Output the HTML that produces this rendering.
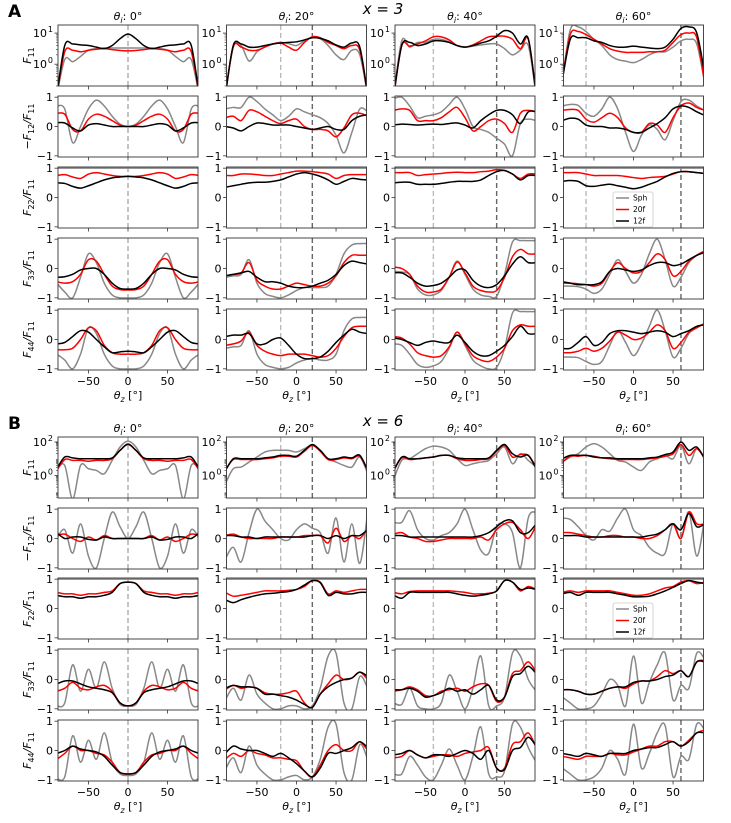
<!DOCTYPE html>
<html><head><meta charset="utf-8"><style>
html,body{margin:0;padding:0;background:#fff;}
svg{display:block;font-family:"DejaVu Sans","Liberation Sans",sans-serif;}
</style></head><body>
<svg id="fig" width="731" height="823" viewBox="0 0 731 823" xmlns="http://www.w3.org/2000/svg"></svg>
<script>
const thetaZ = [-90,-80,-70,-60,-50,-40,-30,-20,-10,0,10,20,30,40,50,60,70,80,90];
const thetaI = [0,20,40,60];
const blockNames = ['A','B'];
const blockX = ['3','6'];
const xTicks = [-50,0,50];
const ratioTicks = [1,0,-1];
const logTicksA = [0,1];
const logTicksB = [0,2];
const seriesNames = ['Sph','20f','12f'];

// ---- Block A (x = 3); F11 stored as log10(F11) ----
const A_F11_sph = [
[-1,.15,.08,.25,.45,.5,.52,.52,.52,.52,.52,.52,.52,.5,.45,.25,.08,.15,-1],
[-1,.55,.6,.1,.4,.55,.65,.7,.66,.6,.75,.85,.82,.6,.3,.15,.45,.3,-1],
[-1,.75,.55,.7,.7,.8,.8,.72,.6,.55,.58,.62,.65,.65,.5,.3,.45,.6,-1],
[-.5,1.1,1.2,1.05,.8,.6,.3,.15,.1,.05,.15,.3,.4,.4,.55,.75,.8,.65,-.6]];
const A_F11_20f = [
[-1,.4,.45,.4,.45,.48,.5,.47,.44,.43,.44,.47,.5,.48,.45,.4,.45,.4,-1],
[-1,.55,.55,.45,.45,.55,.65,.68,.55,.45,.7,.88,.85,.7,.6,.5,.6,.45,-1],
[-1,.6,.58,.65,.75,.88,.88,.78,.6,.55,.62,.75,.88,.9,.9,.8,.5,.8,-1],
[-.5,.95,1.05,.95,.8,.65,.5,.42,.38,.38,.38,.4,.4,.45,.7,.95,1.0,.85,-.6]];
const A_F11_12f = [
[-1,.6,.65,.62,.6,.55,.5,.6,.82,.97,.82,.6,.5,.55,.6,.62,.65,.6,-1],
[-1,.6,.65,.55,.55,.6,.65,.68,.7,.72,.78,.85,.83,.75,.62,.55,.68,.55,-1],
[-1,.6,.7,.6,.65,.75,.75,.7,.6,.55,.6,.68,.75,.9,1.08,1.0,.65,.82,-1],
[-.5,.8,.85,.85,.75,.7,.6,.55,.55,.58,.55,.52,.5,.55,.8,1.15,1.2,1.0,-.3]];
const A_F12_sph = [
[.7,.6,-.55,0,.6,.9,.7,.35,.08,0,.08,.35,.7,.9,.6,0,-.55,.6,.7],
[.6,.65,.65,1,.85,.6,.4,.2,.35,.6,.5,.4,.3,.1,-.3,-.9,-.2,.6,.5],
[.95,1,.7,.3,.35,.4,.5,.75,1,.6,0,-.1,-.2,-.4,-.6,-1,.1,.25,.2],
[.7,.75,.72,.45,.35,.6,1,.6,-.2,-.85,-.3,.05,-.1,-.45,.2,.85,.9,.7,.55]];
const A_F12_20f = [
[.45,.42,-.1,-.15,.25,.42,.35,.2,.05,0,.05,.2,.35,.42,.25,-.15,-.1,.42,.45],
[.3,.35,.2,.55,.5,.35,.2,.1,.2,.25,0,-.1,-.1,-.15,-.35,-.05,.4,.45,.35],
[.55,.6,.55,.2,.2,.2,.3,.5,.65,.3,-.15,0,.2,.25,.1,-.2,.45,.55,.5],
[.55,.58,.55,.25,.15,.3,.45,.3,-.05,-.2,-.2,.1,.05,-.2,.3,.7,.8,.65,.55]];
const A_F12_12f = [
[.13,.12,-.05,-.15,.05,.1,.05,0,0,0,0,0,.05,.1,.05,-.15,-.05,.12,.13],
[0,-.05,-.15,0,.12,.1,.05,.05,.05,0,-.05,-.1,-.05,0,-.1,-.1,.2,.35,.4],
[.05,.08,.07,.05,.07,.08,.07,.1,.12,.05,-.05,.2,.4,.55,.55,.4,.1,.5,.5],
[.2,.28,.25,.05,0,0,-.05,-.05,-.1,-.2,-.2,-.05,.1,.3,.6,.7,.65,.5,.38]];
const A_F22_sph = [
[1,1,1,1,1,1,1,1,1,1,1,1,1,1,1,1,1,1,1],
[1,1,1,1,1,1,1,1,1,1,1,1,1,1,1,1,1,1,1],
[1,1,1,1,1,1,1,1,1,1,1,1,1,1,1,1,1,1,1],
[1,1,1,1,1,1,1,1,1,1,1,1,1,1,1,1,1,1,1]];
const A_F22_20f = [
[.75,.78,.7,.65,.8,.85,.8,.75,.72,.72,.72,.75,.8,.85,.8,.65,.7,.78,.75],
[.75,.75,.8,.8,.78,.75,.75,.8,.85,.9,.9,.88,.85,.8,.65,.75,.78,.78,.78],
[.85,.85,.85,.75,.78,.8,.82,.85,.86,.85,.85,.88,.9,.95,.92,.8,.65,.8,.8],
[.85,.85,.85,.8,.75,.75,.75,.75,.72,.68,.65,.68,.7,.72,.8,.88,.88,.85,.82]];
const A_F22_12f = [
[.5,.48,.38,.32,.4,.5,.6,.67,.7,.72,.7,.67,.6,.5,.4,.32,.38,.48,.5],
[.35,.4,.45,.5,.52,.52,.55,.6,.7,.8,.85,.8,.72,.6,.45,.55,.65,.62,.6],
[.5,.52,.52,.45,.45,.45,.48,.52,.55,.55,.55,.6,.75,.88,.92,.8,.6,.75,.75],
[.55,.58,.55,.4,.38,.42,.45,.4,.35,.3,.35,.45,.55,.7,.82,.88,.88,.85,.82]];
const A_F33_sph = [
[-.5,-.8,-1,-.3,.5,.2,-.5,-.9,-1,-1,-1,-.9,-.5,.2,.5,-.3,-1,-.8,-.5],
[-.3,-.25,-.2,.3,-.5,-.85,-.95,-1,-.9,-.75,-.65,-.65,-.65,-.6,-.2,.5,.8,.85,.85],
[-.1,-.12,-.2,-.7,-.9,-.9,-.75,-.3,.25,-.2,-.7,-.9,-.95,-.95,-.2,.9,.95,.95,.95],
[-.6,-.6,-.62,-.7,-.85,-.7,-.2,.3,-.1,-.5,-.2,.5,1,.3,-.6,-.3,.2,.45,.6]];
const A_F33_20f = [
[-.45,-.5,-.45,-.2,.3,.25,-.2,-.6,-.72,-.73,-.72,-.6,-.2,.25,.3,-.2,-.45,-.5,-.45],
[-.25,-.2,-.15,.2,-.4,-.6,-.7,-.7,-.6,-.5,-.55,-.6,-.6,-.5,-.25,.2,.45,.45,.45],
[.05,0,-.2,-.6,-.8,-.8,-.7,-.3,.22,-.15,-.6,-.75,-.8,-.75,-.3,.4,.65,.5,.5],
[-.5,-.5,-.52,-.55,-.6,-.5,-.1,.2,0,-.15,-.1,.2,.5,.3,-.25,-.1,.25,.45,.6]];
const A_F33_12f = [
[-.3,-.28,-.2,-.05,0,0,-.2,-.5,-.68,-.7,-.68,-.5,-.2,0,0,-.05,-.2,-.28,-.3],
[-.25,-.2,-.15,-.1,-.3,-.45,-.45,-.5,-.6,-.65,-.65,-.6,-.5,-.4,-.2,.1,.25,.2,.15],
[-.15,-.15,-.3,-.5,-.6,-.58,-.5,-.3,-.05,-.05,-.4,-.6,-.65,-.55,-.25,.15,.4,.2,.2],
[-.45,-.5,-.55,-.55,-.55,-.45,-.1,0,-.05,-.1,-.05,.1,.2,.2,.1,.15,.3,.45,.55]];
const A_F44_sph = [
[-.5,-.7,-1,-.5,.4,.2,-.5,-.9,-1,-1,-1,-.9,-.5,.2,.4,-.5,-1,-.7,-.5],
[-.3,-.25,-.2,.3,-.5,-.85,-.95,-1,-.95,-.8,-.7,-.65,-.7,-.7,-.5,.3,.7,.75,.75],
[-.15,-.2,-.5,-.85,-.95,-.9,-.75,-.3,.25,-.2,-.7,-.9,-1,-.95,-.3,.9,.95,.95,.95],
[-.6,-.6,-.62,-.75,-.85,-.75,-.2,.3,-.1,-.55,-.15,.45,1,.3,-.6,-.3,.2,.4,.55]];
const A_F44_20f = [
[-.35,-.35,-.3,0,.4,.3,-.2,-.45,-.5,-.5,-.5,-.45,-.2,.3,.4,0,-.3,-.35,-.35],
[-.2,-.15,-.05,.25,-.2,-.4,-.5,-.55,-.5,-.5,-.5,-.55,-.6,-.55,-.3,.1,.4,.45,.45],
[.1,.05,-.15,-.45,-.55,-.6,-.55,-.25,.25,-.15,-.55,-.7,-.75,-.6,-.3,.3,.5,.45,.45],
[-.45,-.45,-.4,-.3,-.4,-.3,-.05,.25,.15,0,.05,.25,.5,.3,-.3,-.1,.25,.4,.55]];
const A_F44_12f = [
[-.15,-.1,.1,.3,.25,0,-.25,-.45,-.42,-.4,-.42,-.45,-.25,0,.25,.3,.1,-.1,-.15],
[.1,.15,.15,.2,-.15,-.15,0,.05,-.2,-.5,-.65,-.65,-.6,-.4,-.1,.15,.35,.25,.2],
[.05,0,-.1,-.2,-.1,-.05,-.1,-.1,.15,-.1,-.4,-.55,-.55,-.4,-.2,.1,.45,.2,.2],
[-.3,-.3,-.1,.1,-.2,-.1,.2,.3,.3,.25,.2,.25,.3,.25,.1,.2,.3,.45,.5]];

// ---- Block B (x = 6) ----
const B_F11_sph = [
[.4,.6,-1.4,.6,.4,.3,.1,.9,1.7,2.05,1.7,.9,.1,.3,.4,.6,-1.4,.6,.4],
[-.5,.4,.5,.8,1.1,1.4,1.5,1.5,1.5,1.4,1.6,1.8,1.5,1.0,.8,.6,.5,1.1,.1],
[-.2,.9,1.0,1.3,1.6,1.75,1.7,1.5,1.0,.6,.7,.8,.9,1.3,1.7,.7,1.3,.9,.5],
[.8,1.1,1.3,1.7,1.9,1.7,1.3,.9,.8,.5,.3,.8,1.0,1.2,1.0,1.8,.7,1.6,1.0]];
const B_F11_20f = [
[.3,.95,.9,.9,.85,.9,.9,1.0,1.5,1.85,1.5,1.0,.9,.9,.85,.9,.9,.95,.3],
[.3,.95,.95,.95,.95,1.0,1.05,1.15,1.15,1.1,1.45,1.8,1.45,.95,.95,1.05,1.0,1.15,.3],
[.3,1.05,.95,1.0,1.05,1.1,1.2,1.2,1.0,.9,.9,.95,1.0,1.45,1.8,1.1,1.25,1.2,.5],
[.8,1.15,1.15,1.2,1.15,1.05,1.0,.95,.95,.95,.95,1.0,1.05,1.15,1.3,1.85,1.2,1.6,1.0]];
const B_F11_12f = [
[.4,1.1,1.05,1.0,1.0,1.0,1.0,1.05,1.5,1.88,1.5,1.05,1.0,1.0,1.0,1.0,1.05,1.1,.4],
[.3,1.0,1.0,1.0,1.0,1.05,1.1,1.2,1.2,1.15,1.5,1.85,1.5,1.0,1.0,1.1,1.05,1.2,.3],
[.3,1.1,1.0,1.0,1.05,1.1,1.2,1.2,1.05,1.0,1.0,1.0,1.05,1.5,1.85,1.3,1.1,1.2,.4],
[1.0,1.2,1.2,1.2,1.1,1.05,1.05,1.0,1.0,1.0,1.0,1.05,1.1,1.25,1.4,2.0,1.5,1.7,1.0]];
const B_F12_sph = [
[0,.3,-.5,.5,-.6,-1,0,.9,.4,0,.4,.9,0,-1,-.6,.5,-.5,.3,0],
[-.7,-.3,-.8,.2,1,.6,.3,0,-.05,.3,.5,.35,.2,-.5,.7,-.8,.5,-.85,.9],
[.55,.55,.95,.3,0,-.05,.1,.2,.5,1,.3,-.4,-.5,.4,.5,.2,-1,.7,.9],
[.7,.65,.4,.1,-.05,.3,.25,.7,1,.3,.1,-.3,-.5,-.5,.5,0,.9,-.6,.7]];
const B_F12_20f = [
[.1,.15,0,-.1,.05,-.05,.1,0,0,0,0,0,.1,-.05,.05,-.1,0,.15,.1],
[.1,.15,.05,0,0,0,0,.05,.05,.05,.1,.1,.1,-.15,.35,-.1,.1,0,.35],
[.15,.2,.05,0,-.1,-.1,-.05,0,0,0,0,.05,-.05,.3,.5,.55,.3,0,.45],
[.2,.2,.15,.1,.05,.05,.1,.1,.05,.05,0,0,.1,.3,.5,0,.9,.5,.5]];
const B_F12_12f = [
[.2,0,.05,.05,-.03,-.05,.05,0,0,0,0,0,.05,-.05,-.03,.05,.05,0,.2],
[.1,.1,.05,.05,0,.05,.05,.05,.05,.05,.05,.1,.1,0,.1,0,.1,.1,.3],
[.1,.1,.05,.05,.05,.05,.05,.05,.05,.05,.05,.1,.2,.4,.6,.6,.2,.2,.5],
[.1,.1,.1,.05,.05,.05,.05,.05,.05,.05,.05,.1,.15,.3,.5,.3,.85,.4,.5]];
const B_F22_sph = A_F22_sph.map(a => a.slice());
const B_F22_20f = [
[.55,.5,.5,.45,.5,.5,.55,.6,.85,.9,.85,.6,.55,.5,.5,.45,.5,.5,.55],
[.55,.42,.45,.5,.55,.6,.6,.6,.62,.65,.75,.95,.9,.5,.6,.55,.6,.65,.65],
[.55,.5,.58,.6,.6,.6,.6,.6,.58,.55,.5,.5,.52,.6,.95,.9,.6,.75,.65],
[.55,.6,.55,.6,.6,.6,.6,.55,.5,.45,.45,.5,.6,.7,.75,.9,.95,.85,.9]];
const B_F22_12f = [
[.45,.4,.4,.35,.4,.4,.45,.55,.85,.9,.85,.55,.45,.4,.4,.35,.4,.4,.45],
[.3,.2,.3,.38,.45,.5,.52,.55,.58,.65,.8,.95,.88,.45,.55,.5,.5,.55,.55],
[.45,.35,.55,.55,.55,.55,.55,.55,.5,.45,.42,.45,.5,.6,.95,.9,.65,.7,.65],
[.5,.55,.45,.55,.55,.55,.55,.5,.45,.4,.4,.42,.5,.6,.72,.85,.95,.9,.85]];
const B_F33_sph = [
[-.9,-.8,.5,-.4,.35,-.3,.6,-.3,-.85,-.9,-.85,-.3,.6,-.3,.35,-.4,.5,-.8,-.9],
[-.7,-.3,-.7,.15,-.5,-.8,-1,-1,-.9,-.9,-1,-.9,-.3,.8,.9,-.8,-1,.1,-.3],
[-.8,-.85,-.3,-.9,-1,-1,-.8,.15,-.4,-1,-.3,.8,-.9,-.9,-.6,.9,.8,0,-.4],
[-.6,-.8,-1,-1,-.9,-.5,0,-.2,-.9,.8,-.8,-.1,.5,.9,-.7,-.2,-.3,.9,.7]];
const B_F33_20f = [
[-.4,-.3,-.1,-.3,-.35,-.25,-.2,-.4,-.8,-.9,-.8,-.4,-.2,-.25,-.35,-.3,-.1,-.3,-.4],
[-.35,-.2,-.3,-.25,-.3,-.45,-.5,-.5,-.45,-.4,-.8,-.95,-.5,-.15,.15,0,.05,.25,0],
[-.4,-.35,-.25,-.35,-.55,-.55,-.4,-.35,-.3,-.4,-.25,-.15,-.2,-.75,-.6,.2,.3,.6,.25],
[-.35,-.35,-.4,-.5,-.5,-.4,-.3,-.25,-.3,-.15,-.05,-.05,.1,.3,.2,.3,.1,.6,.65]];
const B_F33_12f = [
[-.15,-.05,-.05,-.15,-.25,-.3,-.35,-.45,-.8,-.9,-.8,-.45,-.35,-.3,-.25,-.15,-.05,-.05,-.15],
[-.3,-.2,-.25,-.25,-.3,-.5,-.5,-.55,-.6,-.7,-.85,-.95,-.5,-.25,-.1,0,.05,.25,.1],
[-.35,-.35,-.3,-.4,-.6,-.55,-.45,-.3,-.4,-.35,-.5,-.35,-.2,-.7,-.6,.1,.2,.45,.2],
[-.35,-.35,-.4,-.5,-.5,-.4,-.3,-.25,-.25,-.1,-.05,-.05,0,.1,.15,.3,.1,.6,.6]];
const B_F44_sph = [
[-.95,-.9,.5,-.4,.35,-.3,.6,-.4,-.8,-.85,-.8,-.4,.6,-.3,.35,-.4,.5,-.9,-.95],
[-.65,-.25,-.75,.15,-.5,-.8,-1,-1,-.9,-.85,-1,-.9,-.3,.8,.9,-.75,-1,.2,-.3],
[-.8,-.8,-.2,-.5,-.9,-1,-.5,.05,-.5,-1,-.2,.8,-.8,-.9,-.7,.9,.8,.1,-.4],
[-.6,-.8,-1,-1,-.9,-.6,0,-.3,-.8,.9,-.6,-.1,.6,.85,-.9,-.2,-.3,.9,.7]];
const B_F44_20f = [
[-.3,-.1,.15,0,0,-.1,-.15,-.4,-.75,-.8,-.75,-.4,-.15,-.1,0,0,.15,-.1,-.3],
[-.3,-.1,-.2,0,-.1,-.15,-.25,-.25,-.3,-.35,-.7,-.9,-.5,0,.2,0,0,.3,0],
[-.25,-.2,0,-.15,-.25,-.2,-.15,-.15,-.2,-.1,-.05,0,.1,-.6,-.6,.2,.3,.6,.1],
[-.2,-.25,-.3,-.2,-.2,-.2,-.1,-.15,-.15,-.05,.05,.15,.15,.3,.3,.15,.35,.6,.7]];
const B_F44_12f = [
[-.1,0,.15,.05,0,-.05,-.2,-.5,-.75,-.8,-.75,-.5,-.2,-.05,0,.05,.15,0,-.1],
[-.1,.15,.05,0,0,-.1,-.2,-.1,-.25,-.45,-.7,-.9,-.6,-.1,-.1,0,.1,.3,.1],
[-.15,-.1,0,-.15,-.25,-.15,-.15,-.2,-.1,0,-.1,-.3,0,-.6,-.65,0,.1,.45,.15],
[-.1,-.15,-.2,-.1,-.15,-.2,-.1,-.1,-.1,0,.05,.1,.1,.2,.3,.15,.3,.6,.6]];

const DATA = {
  A: [[A_F11_sph,A_F11_20f,A_F11_12f],[A_F12_sph,A_F12_20f,A_F12_12f],[A_F22_sph,A_F22_20f,A_F22_12f],[A_F33_sph,A_F33_20f,A_F33_12f],[A_F44_sph,A_F44_20f,A_F44_12f]],
  B: [[B_F11_sph,B_F11_20f,B_F11_12f],[B_F12_sph,B_F12_20f,B_F12_12f],[B_F22_sph,B_F22_20f,B_F22_12f],[B_F33_sph,B_F33_20f,B_F33_12f],[B_F44_sph,B_F44_20f,B_F44_12f]]
};

// ---- layout ----
const NS = 'http://www.w3.org/2000/svg';
const svg = document.getElementById('fig');
const colX = [58, 226.5, 395, 563.5];
const PW = 140, PH = 61;
const rowTop = {A:[25,96,167,238,309], B:[437,508,578,649,720]};
const logLim = {A:[-0.7,1.26], B:[-1.35,2.3]};
const XMIN = -88.5, XMAX = 88.5;
const colors = ['#888888','#ff0000','#000000'];
const seriesKeys = ['sph','20f','12f'];

function el(tag, attrs, parent) {
  const e = document.createElementNS(NS, tag);
  for (const k in attrs) e.setAttribute(k, attrs[k]);
  (parent || svg).appendChild(e);
  return e;
}
function xScale(c, v) { return colX[c] + (v - XMIN) / (XMAX - XMIN) * PW; }
function yScale(b, r, v) {
  const top = rowTop[b][r];
  let lo = -1.04, hi = 1.04;
  if (r === 0) { lo = logLim[b][0]; hi = logLim[b][1]; }
  return top + (hi - v) / (hi - lo) * PH;
}
function smoothPath(pts) {
  let d = 'M' + pts[0][0].toFixed(2) + ',' + pts[0][1].toFixed(2);
  for (let i = 0; i < pts.length - 1; i++) {
    const p0 = pts[Math.max(0, i - 1)], p1 = pts[i], p2 = pts[i + 1], p3 = pts[Math.min(pts.length - 1, i + 2)];
    const c1x = p1[0] + (p2[0] - p0[0]) / 6, c1y = p1[1] + (p2[1] - p0[1]) / 6;
    const c2x = p2[0] - (p3[0] - p1[0]) / 6, c2y = p2[1] - (p3[1] - p1[1]) / 6;
    d += ' C' + c1x.toFixed(2) + ',' + c1y.toFixed(2) + ' ' + c2x.toFixed(2) + ',' + c2y.toFixed(2) + ' ' + p2[0].toFixed(2) + ',' + p2[1].toFixed(2);
  }
  return d;
}
const defs = el('defs', {});
const rowLabels = [
  [['F',''],['11','sub']],
  [['−F',''],['12','sub'],['/F',''],['11','sub']],
  [['F',''],['22','sub'],['/F',''],['11','sub']],
  [['F',''],['33','sub'],['/F',''],['11','sub']],
  [['F',''],['44','sub'],['/F',''],['11','sub']]
];

['A','B'].forEach((b, bi) => {
  // block letter
  const letter = el('text', {x: 8, y: rowTop[b][0] - 8, 'font-size': 17, 'font-weight': 'bold'});
  letter.textContent = blockNames[bi];
  
  
  const xt = el('text', {x: 383, y: rowTop[b][0] - 11, 'font-size': 15, 'text-anchor': 'middle', 'font-style': 'italic'});
  xt.textContent = 'x = ' + blockX[bi];
  
  

  for (let c = 0; c < 4; c++) {
    // column title
    const t = el('text', {x: colX[c] + PW / 2, y: rowTop[b][0] - 5, 'font-size': 11, 'text-anchor': 'middle'});
    const ts1 = el('tspan', {'font-style': 'italic'}, t); ts1.textContent = 'θ';
    const ts2 = el('tspan', {'font-size': 8, 'font-style': 'italic', dy: 3}, t); ts2.textContent = 'i';
    const ts3 = el('tspan', {dy: -3}, t); ts3.textContent = ': ' + thetaI[c] + '°';
    
    

    for (let r = 0; r < 5; r++) {
      const top = rowTop[b][r], left = colX[c];
      const g = el('g', {});
      
      
      const cid = 'clip' + b + r + c;
      const cp = el('clipPath', {id: cid}, defs);
      el('rect', {x: left, y: top, width: PW, height: PH}, cp);

      // vertical reference lines
      const vls = c === 0 ? [[0, '#aaaaaa']] : [[-thetaI[c], '#bbbbbb'], [thetaI[c], '#666666']];
      vls.forEach(v => {
        const ln = el('line', {x1: xScale(c, v[0]), x2: xScale(c, v[0]), y1: top, y2: top + PH, stroke: v[1], 'stroke-width': 1.4, 'stroke-dasharray': '5,3'}, g);
        
        
      });

      // series
      const lg = el('g', {'clip-path': 'url(#' + cid + ')'}, g);
      DATA[b][r].forEach((arrs, s) => {
        const vals = arrs[c];
        const pts = [];
        for (let i = 0; i < vals.length && i < thetaZ.length; i++) pts.push([xScale(c, thetaZ[i]), yScale(b, r, vals[i])]);
        const p = el('path', {d: smoothPath(pts), fill: 'none', stroke: colors[s], 'stroke-width': 1.5, 'stroke-linejoin': 'round'}, lg);
        
        
      });

      // frame
      const fr = el('rect', {x: left, y: top, width: PW, height: PH, fill: 'none', stroke: '#333', 'stroke-width': 0.9}, g);
      
      

      // x ticks
      xTicks.forEach(v => {
        const x = xScale(c, v);
        el('line', {x1: x, x2: x, y1: top + PH, y2: top + PH + 3.5, stroke: '#333', 'stroke-width': 0.8}, g);
        if (r === 4) {
          const tl = el('text', {x: x, y: top + PH + 15, 'font-size': 11, 'text-anchor': 'middle'}, g);
          tl.textContent = v < 0 ? '−' + (-v) : String(v);
          
          
        }
      });
      if (r === 4) {
        const xl = el('text', {x: left + PW / 2, y: top + PH + 29, 'font-size': 11, 'text-anchor': 'middle'}, g);
        const a1 = el('tspan', {'font-style': 'italic'}, xl); a1.textContent = 'θ';
        const a2 = el('tspan', {'font-size': 8, 'font-style': 'italic', dy: 3}, xl); a2.textContent = 'z';
        const a3 = el('tspan', {dy: -3}, xl); a3.textContent = ' [°]';
        
        
      }

      // y ticks
      if (r === 0) {
        const lt = b === 'A' ? logTicksA : logTicksB;
        // minor ticks
        for (let d = Math.floor(logLim[b][0]); d < logLim[b][1]; d++) {
          for (let m = 2; m < 10; m++) {
            const lv = d + Math.log10(m);
            if (lv > logLim[b][0] && lv < logLim[b][1]) {
              const y = yScale(b, r, lv);
              el('line', {x1: left - 2, x2: left, y1: y, y2: y, stroke: '#333', 'stroke-width': 0.6}, g);
            }
          }
        }
        lt.forEach(v => {
          const y = yScale(b, r, v);
          el('line', {x1: left - 3.5, x2: left, y1: y, y2: y, stroke: '#333', 'stroke-width': 0.8}, g);
          const tl = el('text', {x: left - 11, y: y + 4, 'font-size': 11, 'text-anchor': 'end'}, g);
          tl.textContent = '10';
          const sp = el('text', {x: left - 5, y: y - 1, 'font-size': 8, 'text-anchor': 'end'}, g);
          sp.textContent = String(v);
          
          
        });
      } else {
        ratioTicks.forEach(v => {
          const y = yScale(b, r, v);
          el('line', {x1: left - 3.5, x2: left, y1: y, y2: y, stroke: '#333', 'stroke-width': 0.8}, g);
          const tl = el('text', {x: left - 5, y: y + 4, 'font-size': 11, 'text-anchor': 'end'}, g);
          tl.textContent = v < 0 ? '−' + (-v) : String(v);
          
          
        });
      }

      // y label (first column only)
      if (c === 0) {
        const cy = top + PH / 2;
        const yl = el('text', {x: 0, y: 0, 'font-size': 11, 'text-anchor': 'middle', transform: 'translate(31,' + cy + ') rotate(-90)'}, svg);
        let prevSub = false;
        rowLabels[r].forEach(part => {
          const ts = el('tspan', {}, yl);
          if (part[1] === 'sub') { ts.setAttribute('font-size', 8); ts.setAttribute('dy', 3); prevSub = true; }
          else { ts.setAttribute('font-style', 'italic'); if (prevSub) ts.setAttribute('dy', -3); prevSub = false; }
          ts.textContent = part[0];
        });
        
        
      }

      // legend
      if (r === 2 && c === 3) {
        const lgx = 613, lgy = top + 25;
        const lgG = el('g', {}, g);
        
        
        el('rect', {x: lgx, y: lgy, width: 40, height: 35, fill: '#fff', stroke: '#ccc', 'stroke-width': 0.8, rx: 2}, lgG);
        seriesNames.forEach((nm, s) => {
          const yy = lgy + 6 + s * 11.5;
          const ln = el('line', {x1: lgx + 3, x2: lgx + 16, y1: yy, y2: yy, stroke: colors[s], 'stroke-width': 1.5}, lgG);
          
          
          const tx = el('text', {x: lgx + 20, y: yy + 2.5, 'font-size': 7.5}, lgG);
          tx.textContent = nm;
          
          
        });
      }
    }
  }
});
</script>
</body></html>
